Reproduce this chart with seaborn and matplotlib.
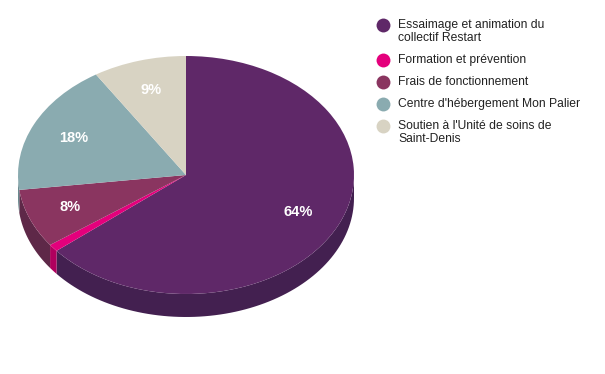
import numpy as np
import matplotlib
matplotlib.use("Agg")
import matplotlib.pyplot as plt
import seaborn as sns

sns.set_theme(style="white")
plt.rcParams['font.family'] = ['Liberation Sans', 'DejaVu Sans']

# ---- data ----
categories = [
    "Essaimage et animation du\ncollectif Restart",
    "Formation et prévention",
    "Frais de fonctionnement",
    "Centre d'hébergement Mon Palier",
    "Soutien à l'Unité de soins de\nSaint-Denis",
]
values = [64, 1, 8, 18, 9]
top_colors = ["#5f2868", "#e4007c", "#8a3560", "#8aabb0", "#d8d3c3"]
side_colors = ["#432050", "#b0005e", "#5e2848", "#6a8a8f", "#b0ab9c"]

W, H = 605, 374
fig = plt.figure(figsize=(W / 100, H / 100), dpi=100)
ax = fig.add_axes([0, 0, 1, 1])

cx_px, cy_px, rx_px, ry_px = 186, 175, 168, 119
depth = 23 / ry_px

# side walls (front half, angles 180..360)
total = sum(values)
start = 90.0
angles = []
a = start
for v in values:
    b = a - v / total * 360.0
    angles.append((b, a))
    a = b

for (lo, hi), col in zip(angles, side_colors):
    for shift in (0, 360, -360):
        l, h = lo + shift, hi + shift
        l2, h2 = max(l, 180), min(h, 360)
        if h2 > l2:
            t = np.radians(np.linspace(l2, h2, 80))
            xs = np.concatenate([np.cos(t), np.cos(t[::-1])])
            ys = np.concatenate([np.sin(t), np.sin(t[::-1]) - depth])
            ax.fill(xs, ys, color=col, lw=0, zorder=1)

def fmt(p):
    return f"{p:.0f}%" if p >= 2 else ""

wedges, texts, autotexts = ax.pie(
    values, colors=top_colors, startangle=90, counterclock=False,
    autopct=fmt, pctdistance=0.74, radius=1.0,
    wedgeprops=dict(linewidth=0, zorder=2),
    textprops=dict(color="white", fontsize=10.5, fontweight="bold"),
)
for t in autotexts:
    t.set_zorder(3)

ax.set_aspect('auto')
ax.set_xlim(-cx_px / rx_px, (W - cx_px) / rx_px)
ax.set_ylim((cy_px - H) / ry_px, cy_px / ry_px)
ax.axis('off')

# legend
lax = fig.add_axes([0, 0, 1, 1])
lax.set_xlim(0, W)
lax.set_ylim(H, 0)
lax.axis('off')
y = 25
for lab, col in zip(categories, top_colors):
    lax.scatter([383], [y], s=100, color=col, lw=0)
    lax.text(398, y - 6.5, lab, fontsize=8.7, color="#222222", va="top",
             ha="left", linespacing=1.2)
    y += 22 + 13 * lab.count("\n")

fig.savefig("out.png", dpi=100)
